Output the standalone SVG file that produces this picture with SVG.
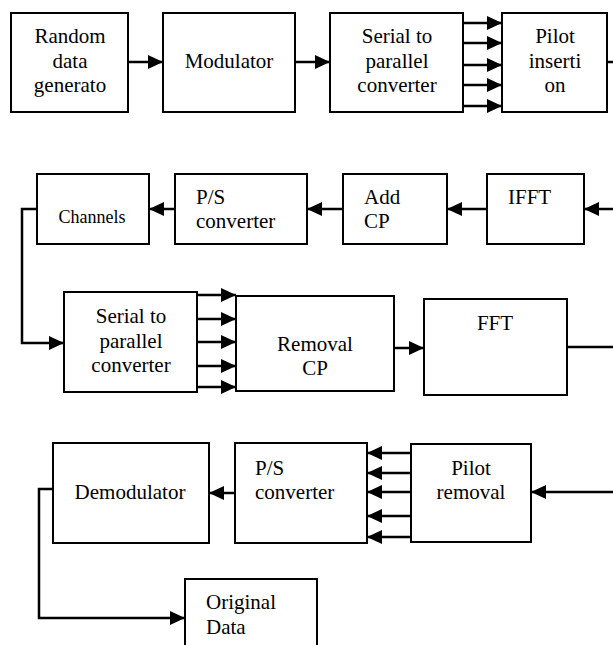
<svg xmlns="http://www.w3.org/2000/svg" width="613" height="645" viewBox="0 0 613 645">
<style>
.box{fill:#fff;stroke:#000;stroke-width:2}
.t{font-family:"Liberation Serif","Times New Roman",serif;font-size:21px;fill:#000}
.c{text-anchor:middle}
.sm{font-size:18px}
.ln{fill:none;stroke:#000;stroke-width:2.5}
.la{fill:none;stroke:#000;stroke-width:2.5;marker-end:url(#ah)}
</style>
<defs>
<marker id="ah" markerUnits="userSpaceOnUse" markerWidth="15" markerHeight="14" refX="15" refY="7" orient="auto">
<path d="M0,0 L15,7 L0,14 z" fill="#000"/>
</marker>
</defs>
<rect width="613" height="645" fill="#fff"/>
<g id="connectors">
<path class="la" d="M128,62 H163"/>
<path class="la" d="M295,62 H330"/>
<path class="la" d="M463,23 H502"/>
<path class="la" d="M463,43 H502"/>
<path class="la" d="M463,65 H502"/>
<path class="la" d="M463,85 H502"/>
<path class="la" d="M463,106 H502"/>
<path class="ln" d="M607,62 H613"/>
<path class="la" d="M613,209 H584"/>
<path class="la" d="M487,209 H447"/>
<path class="la" d="M343,209 H307"/>
<path class="la" d="M175,209 H149"/>
<path class="la" d="M37,209 H22 V343 H64"/>
<path class="la" d="M197,295 H236"/>
<path class="la" d="M197,319 H236"/>
<path class="la" d="M197,342 H236"/>
<path class="la" d="M197,366 H236"/>
<path class="la" d="M197,387 H236"/>
<path class="la" d="M394,348 H424"/>
<path class="ln" d="M567,347 H613"/>
<path class="la" d="M613,492 H531"/>
<path class="la" d="M411,453 H367"/>
<path class="la" d="M411,473 H367"/>
<path class="la" d="M411,492 H367"/>
<path class="la" d="M411,516 H367"/>
<path class="la" d="M411,537 H367"/>
<path class="la" d="M235,493 H209"/>
<path class="la" d="M53,489 H39 V618 H185"/>
</g>
<g id="random-data">
<rect class="box" x="11" y="13" width="117" height="99"/>
<text class="t c" x="70" y="43">Random</text>
<text class="t c" x="70" y="68">data</text>
<text class="t c" x="70" y="92">generato</text>
</g>
<g id="modulator">
<rect class="box" x="163" y="13" width="132" height="99"/>
<text class="t c" x="229" y="68">Modulator</text>
</g>
<g id="sp1">
<rect class="box" x="330" y="13" width="133" height="99"/>
<text class="t c" x="397" y="43">Serial to</text>
<text class="t c" x="397" y="68">parallel</text>
<text class="t c" x="397" y="92">converter</text>
</g>
<g id="pilot-insertion">
<rect class="box" x="502" y="13" width="105" height="99"/>
<text class="t c" x="555" y="43">Pilot</text>
<text class="t c" x="555" y="68">inserti</text>
<text class="t c" x="555" y="92">on</text>
</g>
<g id="channels">
<rect class="box" x="37" y="174" width="112" height="70"/>
<text class="t sm c" x="92" y="223">Channels</text>
</g>
<g id="ps1">
<rect class="box" x="175" y="174" width="132" height="70"/>
<text class="t" x="196" y="204">P/S</text>
<text class="t" x="196" y="228">converter</text>
</g>
<g id="addcp">
<rect class="box" x="343" y="174" width="104" height="70"/>
<text class="t" x="364" y="204">Add</text>
<text class="t" x="364" y="228">CP</text>
</g>
<g id="ifft">
<rect class="box" x="487" y="174" width="97" height="70"/>
<text class="t" x="508" y="204">IFFT</text>
</g>
<g id="sp2">
<rect class="box" x="64" y="292" width="133" height="100"/>
<text class="t c" x="131" y="323">Serial to</text>
<text class="t c" x="131" y="348">parallel</text>
<text class="t c" x="131" y="372">converter</text>
</g>
<g id="removalcp">
<rect class="box" x="236" y="296" width="158" height="95"/>
<text class="t c" x="315" y="351">Removal</text>
<text class="t c" x="315" y="375">CP</text>
</g>
<g id="fft">
<rect class="box" x="424" y="299" width="143" height="96"/>
<text class="t c" x="495" y="330">FFT</text>
</g>
<g id="demodulator">
<rect class="box" x="53" y="443" width="156" height="100"/>
<text class="t c" x="130" y="499">Demodulator</text>
</g>
<g id="ps2">
<rect class="box" x="235" y="443" width="132" height="100"/>
<text class="t" x="255" y="475">P/S</text>
<text class="t" x="255" y="499">converter</text>
</g>
<g id="pilot-removal">
<rect class="box" x="411" y="444" width="120" height="98"/>
<text class="t c" x="471" y="475">Pilot</text>
<text class="t c" x="471" y="499">removal</text>
</g>
<g id="original-data">
<rect class="box" x="185" y="579" width="132" height="80"/>
<text class="t" x="206" y="609">Original</text>
<text class="t" x="206" y="634">Data</text>
</g>
</svg>
